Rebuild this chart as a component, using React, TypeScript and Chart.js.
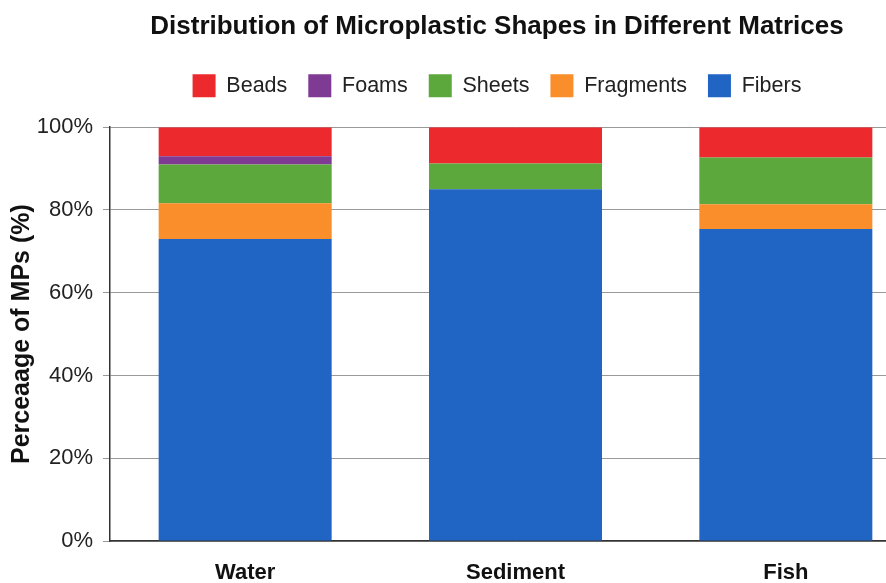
import React, { useEffect, useRef } from 'react';
import { Chart, registerables } from 'chart.js';

Chart.register(...registerables);

// Share of each microplastic shape (%) per matrix, stacked bottom to top
const matrices = ['Water', 'Sediment', 'Fish'];
const fibers = [73, 85, 75.4];
const fragments = [8.6, 0, 6];
const sheets = [9.4, 6.2, 11.3];
const foams = [2, 0, 0];
const beads = [7, 8.8, 7.3];

const FONT = "'Liberation Sans', Arial, Helvetica, sans-serif";

// Extra room between the legend row and the plot area
const legendGap = {
  id: 'legendGap',
  beforeInit(chart: any) {
    const legend = chart.legend;
    if (!legend) return;
    const fit = legend.fit;
    legend.fit = function () {
      fit.call(this);
      this.height += 20;
    };
  },
};

export default function App() {
  const canvasRef = useRef<HTMLCanvasElement>(null);

  useEffect(() => {
    const canvas = canvasRef.current;
    if (!canvas) return;

    const chart = new Chart(canvas, {
      type: 'bar',
      data: {
        labels: matrices,
        datasets: [
          { label: 'Fibers', data: fibers, backgroundColor: '#2064C4' },
          { label: 'Fragments', data: fragments, backgroundColor: '#F98E2A' },
          { label: 'Sheets', data: sheets, backgroundColor: '#5CA83C' },
          { label: 'Foams', data: foams, backgroundColor: '#7F3B94' },
          { label: 'Beads', data: beads, backgroundColor: '#EC2A2E' },
        ],
      },
      plugins: [legendGap],
      options: {
        responsive: false,
        animation: false,
        maintainAspectRatio: false,
        datasets: {
          bar: { categoryPercentage: 1, barPercentage: 0.64 },
        },
        layout: { padding: 0 },
        plugins: {
          tooltip: { enabled: false },
          title: {
            display: true,
            text: 'Distribution of Microplastic Shapes in Different Matrices',
            color: '#111',
            font: { family: FONT, size: 26, weight: 'bold' },
            padding: { top: 11, bottom: 11 },
          },
          legend: {
            reverse: true,
            labels: {
              boxWidth: 23,
              boxHeight: 23,
              padding: 21,
              color: '#222',
              font: { family: FONT, size: 21.5 },
            },
          },
        },
        scales: {
          x: {
            stacked: true,
            grid: { display: false, drawTicks: false },
            border: { display: true, color: '#333', width: 1.5 },
            ticks: {
              padding: 21,
              color: '#111',
              font: { family: FONT, size: 22, weight: 'bold', lineHeight: 1 },
            },
            afterFit: (scale: any) => {
              scale.height = 42;
            },
          },
          y: {
            stacked: true,
            min: 0,
            max: 100,
            ticks: {
              stepSize: 20,
              padding: 10,
              color: '#222',
              font: { family: FONT, size: 22 },
              callback: (v: any) => `${v}%`,
            },
            grid: { color: '#999', tickLength: 7 },
            border: { color: '#333', width: 1.5 },
            title: {
              display: true,
              text: 'Perceaage of MPs (%)',
              color: '#111',
              font: { family: FONT, size: 25, weight: 'bold' },
              padding: { top: 7, bottom: 0 },
            },
            afterFit: (scale: any) => {
              scale.width = 110;
            },
          },
          // empty right-hand strip that sets where the plot area ends
          yRight: {
            position: 'right',
            display: true,
            grid: { display: false, drawTicks: false },
            border: { display: false },
            ticks: { display: false },
            afterFit: (scale: any) => {
              scale.width = 73;
            },
          },
        },
      },
    });

    return () => chart.destroy();
  }, []);

  return (
    <div
      style={{
        position: 'fixed',
        left: 0,
        top: 0,
        width: 886,
        height: 583,
        overflow: 'hidden',
        background: '#fff',
      }}
    >
      <canvas ref={canvasRef} width={994} height={583} style={{ display: 'block' }} />
    </div>
  );
}
